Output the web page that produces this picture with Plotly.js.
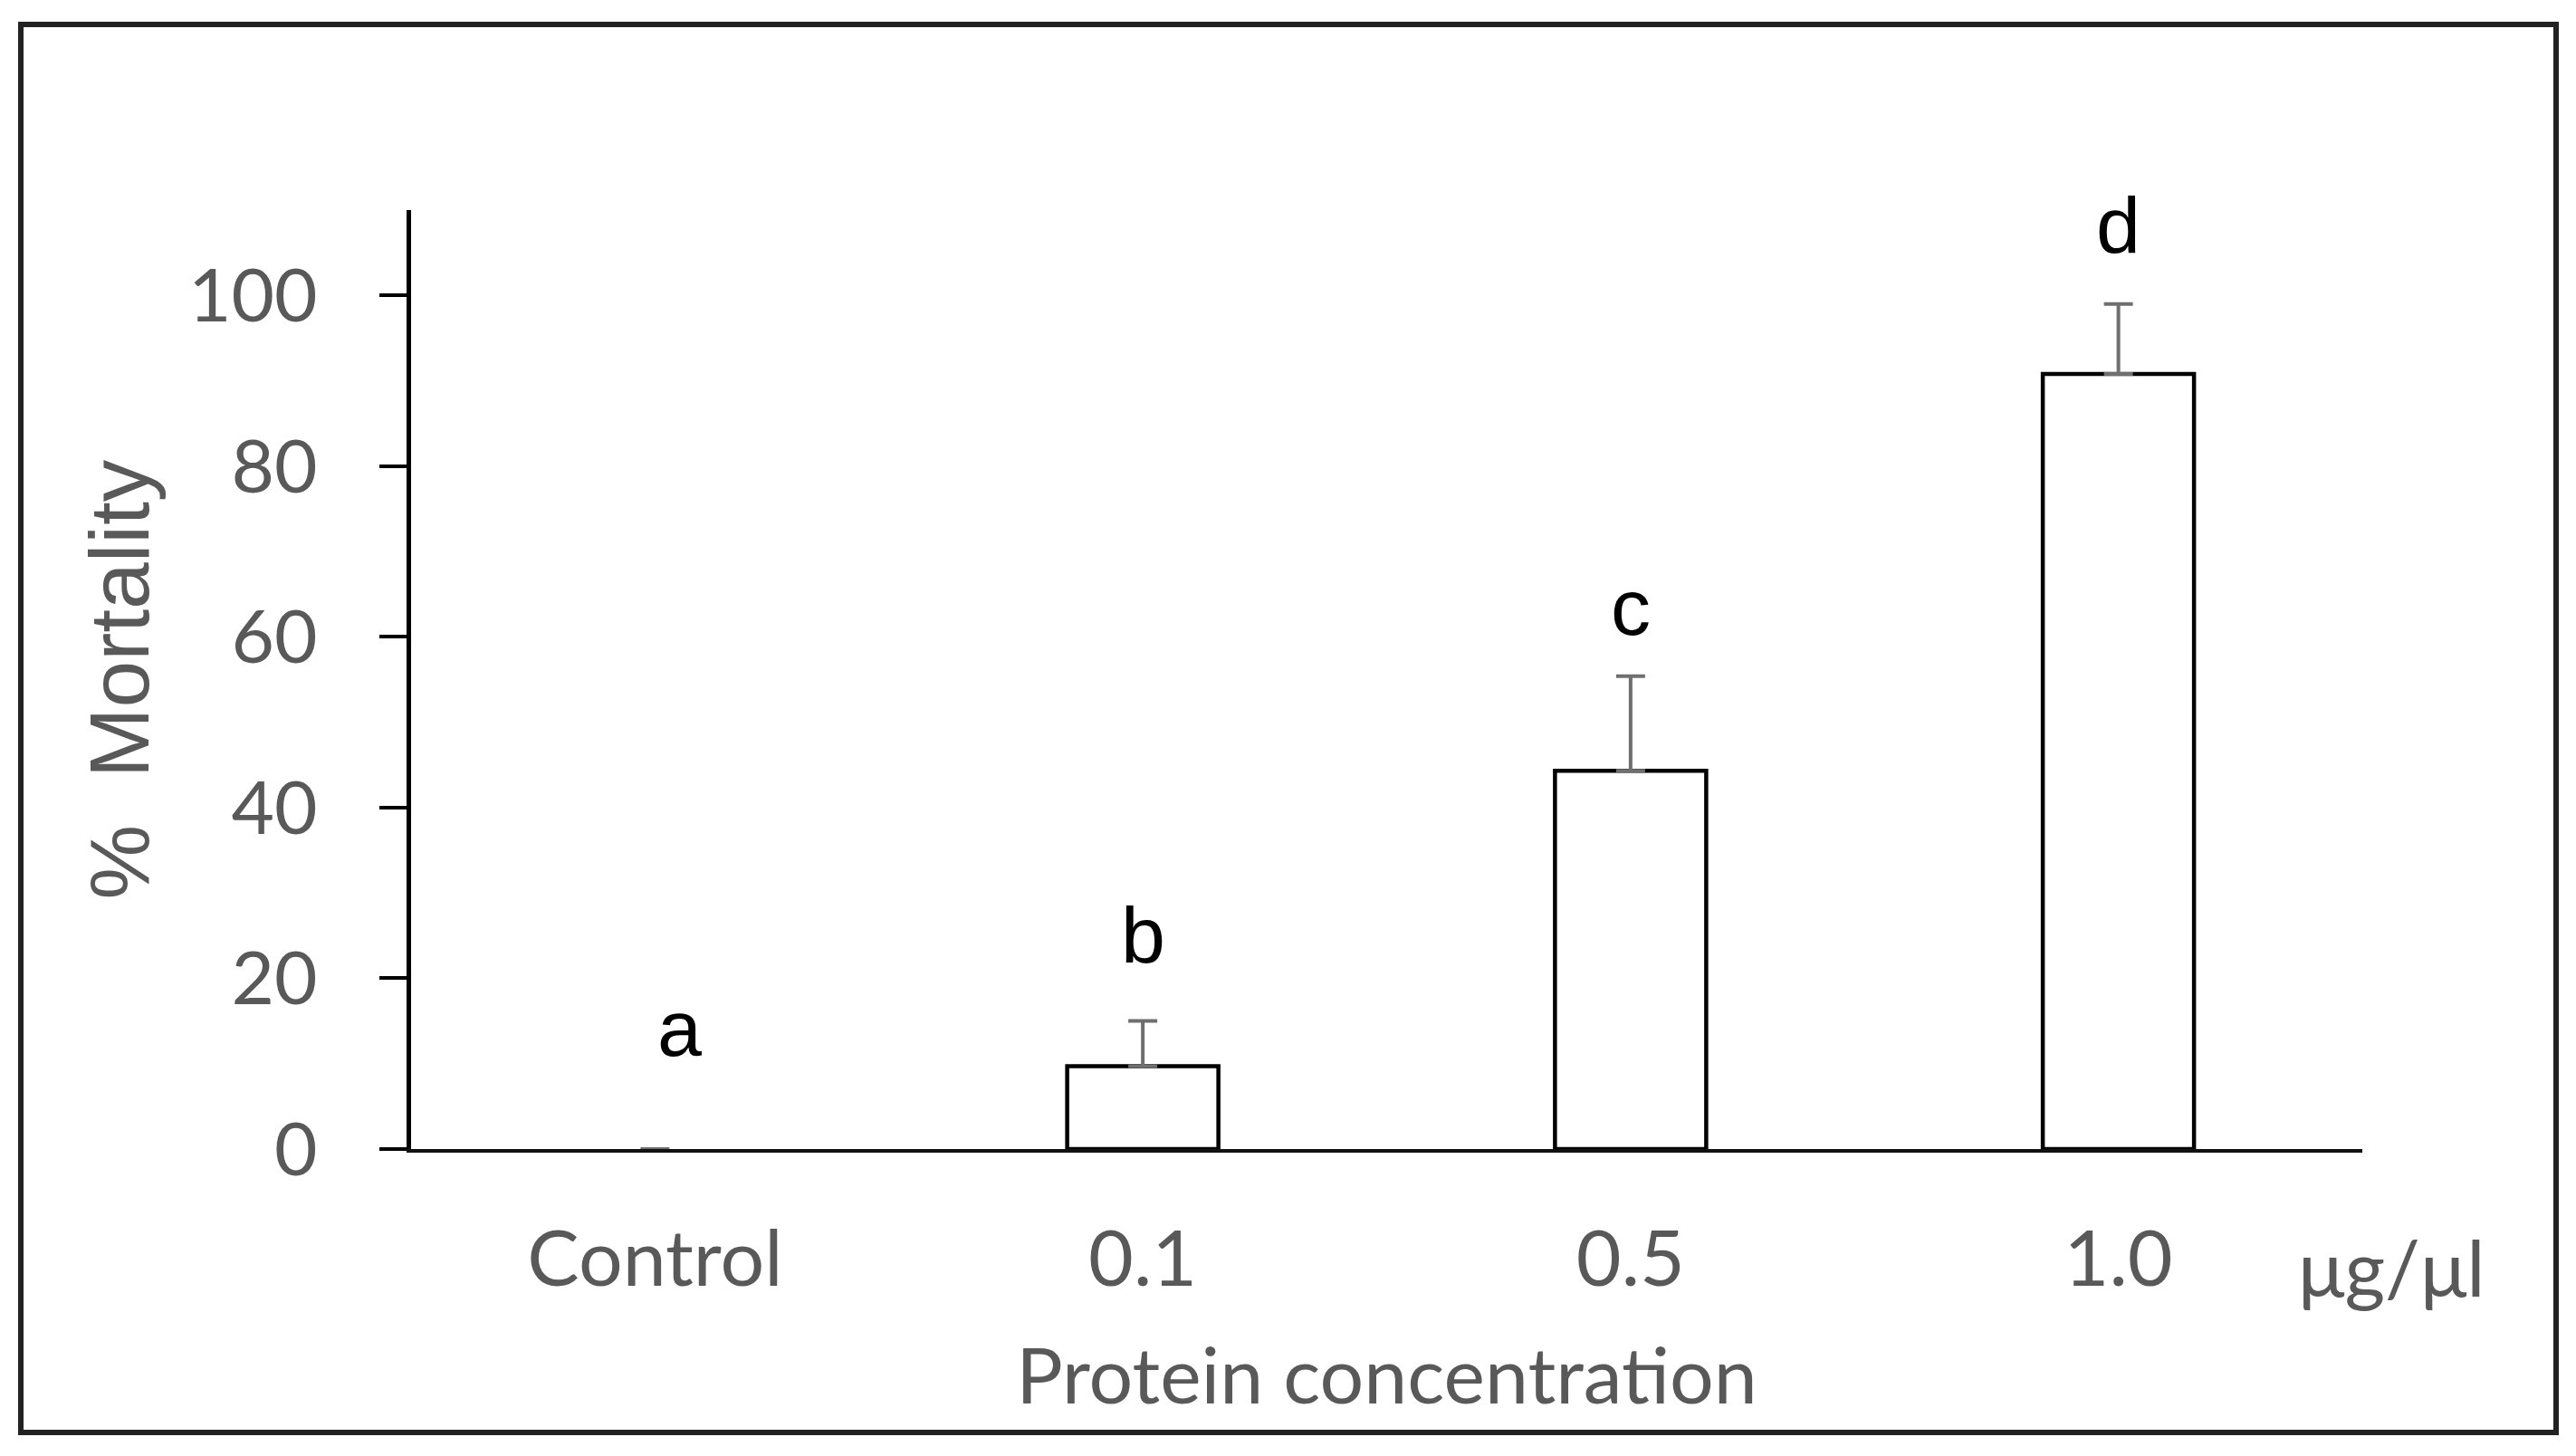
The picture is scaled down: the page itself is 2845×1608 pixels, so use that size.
<!DOCTYPE html>
<html>
<head>
<meta charset="utf-8">
<script src="https://cdn.plot.ly/plotly-3.0.1.min.js"></script>
<style>
  html, body { margin: 0; padding: 0; background: #ffffff; }
  #chart { width: 2845px; height: 1608px; }
</style>
</head>
<body>
<div id="chart"></div>
<script>
// ---- data ----
const categories = ['Control', '0.1', '0.5', '1.0'];
const mortality = [0, 9.7, 44.3, 90.8];          // % mortality (bar heights)
const errorPlus = [null, 5.3, 11.1, 8.2];        // upper error bars
const groupLetters = ['a', 'b', 'c', 'd'];        // significance letters
const yTickValues = [0, 20, 40, 60, 80, 100];
const unitLabel = 'μg/μl';
const xTitle = 'Protein concentration';
const yTitle = '%\u00a0\u00a0Mortality';

// ---- layout geometry ----
const W = 2845, H = 1608;
const M = { l: 454, r: 236, t: 232, b: 339 };
const plotW = W - M.l - M.r, plotH = H - M.t - M.b;
const px2x = px => (px - M.l) / plotW;
const px2y = py => (H - M.b - py) / plotH;

const tickFont = { family: 'Lato, "Open Sans", sans-serif', size: 86, color: '#595959' };
const yTickFont = { family: 'Lato, "Open Sans", sans-serif', size: 82, color: '#595959' };
const letterFont = { family: '"Liberation Sans", Arial, sans-serif', size: 88, color: '#000000' };

const trace = {
  type: 'bar',
  x: categories,
  y: mortality,
  width: 0.31,
  marker: {
    color: '#ffffff',
    line: { color: '#000000', width: mortality.map(v => (v > 0 ? 4.5 : 0)) }
  },
  error_y: {
    type: 'data',
    symmetric: false,
    array: errorPlus,
    arrayminus: errorPlus.map(e => (e == null ? null : 0)),
    color: '#6f6f6f',
    thickness: 4,
    width: 16
  },
  hoverinfo: 'skip',
  showlegend: false
};

const letterLift = [10.8, 6.7, 4.7, 5.9];
const annotations = groupLetters.map((t, i) => ({
  xref: 'x', yref: 'y',
  x: i,
  y: mortality[i] + (errorPlus[i] || 0) + letterLift[i],
  text: t,
  showarrow: false,
  xanchor: 'center', yanchor: 'bottom',
  xshift: i === 0 ? 27 : 0,
  yshift: -20,
  font: letterFont
}));
annotations.push({
  xref: 'paper', yref: 'paper',
  x: px2x(2641), y: px2y(1398),
  text: unitLabel, showarrow: false,
  xanchor: 'center', yanchor: 'middle',
  font: tickFont
});

const layout = {
  width: W, height: H,
  margin: M,
  paper_bgcolor: '#ffffff',
  plot_bgcolor: '#ffffff',
  bargap: 0.69,
  xaxis: {
    type: 'category',
    range: [-0.5, 3.5],
    showgrid: false,
    zeroline: false,
    showline: true,
    linecolor: '#111111',
    linewidth: 4,
    ticks: '',
    tickfont: tickFont,
    ticklabelstandoff: 44,
    title: { text: xTitle, font: tickFont, standoff: 54 },
    automargin: false,
    fixedrange: true
  },
  yaxis: {
    range: [0, 110],
    tickmode: 'array',
    tickvals: yTickValues,
    showgrid: false,
    zeroline: false,
    showline: true,
    linecolor: '#000000',
    linewidth: 5,
    ticks: 'outside',
    ticklen: 30,
    tickwidth: 4,
    tickcolor: '#000000',
    tickfont: yTickFont,
    ticklabelstandoff: 52,
    title: { text: yTitle, font: { family: '"Liberation Sans", Arial, sans-serif', size: 93, color: '#595959' }, standoff: 14 },
    automargin: false,
    fixedrange: true
  },
  annotations: annotations,
  shapes: [{
    type: 'rect', xref: 'paper', yref: 'paper',
    x0: px2x(23), x1: px2x(2823), y0: px2y(1582), y1: px2y(27),
    line: { color: '#222222', width: 6 },
    fillcolor: 'rgba(0,0,0,0)',
    layer: 'below'
  }]
};

Plotly.newPlot('chart', [trace], layout, { staticPlot: true, displayModeBar: false });
</script>
</body>
</html>
